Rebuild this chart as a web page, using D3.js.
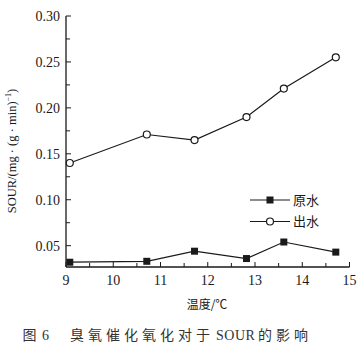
<!DOCTYPE html>
<html><head><meta charset="utf-8">
<script src="https://cdn.jsdelivr.net/npm/d3@7"></script>
<style>
html,body{margin:0;padding:0;background:#fff;}
svg{display:block;}
.serif{font-family:"Liberation Serif","Times New Roman",Times,serif;}
.cjk{font-family:"Noto Sans CJK SC","Noto Sans CJK JP",sans-serif;}
</style></head>
<body>
<svg id="c" width="364" height="353"></svg>
<script>
const temps = [9.08, 10.71, 11.72, 12.82, 13.61, 14.71];
const rawWater = [0.032, 0.033, 0.044, 0.036, 0.054, 0.043];
const outWater = [0.140, 0.171, 0.165, 0.190, 0.221, 0.255];
const seriesNames = ["原水", "出水"];
const xTicks = [9, 10, 11, 12, 13, 14, 15];
const yTicks = [0.05, 0.10, 0.15, 0.20, 0.25, 0.30];

const svg = d3.select("#c");
const col = "#1a1a1a";

const x = d3.scaleLinear().domain([9, 15]).range([66, 349.5]);
const y = d3.scaleLinear().domain([0.0268, 0.30]).range([267, 16]);

svg.append("line").attr("x1", x(9)).attr("x2", x(9)).attr("y1", y(0.30)).attr("y2", y(0.0268))
  .attr("stroke", col).attr("stroke-width", 1.3);
svg.append("line").attr("x1", x(9)).attr("x2", x(15)).attr("y1", y(0.0268)).attr("y2", y(0.0268))
  .attr("stroke", col).attr("stroke-width", 1.3);

const yMinor = d3.range(0.075, 0.30, 0.05);
yTicks.forEach(v => {
  svg.append("line").attr("x1", x(9)).attr("x2", x(9) + 5).attr("y1", y(v)).attr("y2", y(v)).attr("stroke", col).attr("stroke-width", 1);
  svg.append("text").attr("class", "serif").attr("x", 60).attr("y", y(v)).attr("dy", "0.35em").attr("text-anchor", "end")
    .attr("font-size", 14).attr("fill", col).text(d3.format(".2f")(v));
});
yMinor.forEach(v => {
  svg.append("line").attr("x1", x(9)).attr("x2", x(9) + 4).attr("y1", y(v)).attr("y2", y(v)).attr("stroke", col).attr("stroke-width", 1);
});
xTicks.forEach(v => {
  svg.append("line").attr("x1", x(v)).attr("x2", x(v)).attr("y1", y(0.0268)).attr("y2", y(0.0268) - 5).attr("stroke", col).attr("stroke-width", 1);
  svg.append("text").attr("class", "serif").attr("x", x(v)).attr("y", 285).attr("text-anchor", "middle")
    .attr("font-size", 14).attr("fill", col).text(v);
});
d3.range(9.5, 15, 1).forEach(v => {
  svg.append("line").attr("x1", x(v)).attr("x2", x(v)).attr("y1", y(0.0268)).attr("y2", y(0.0268) - 4).attr("stroke", col).attr("stroke-width", 1);
});

const line = d3.line().x((d, i) => x(temps[i])).y(d => y(d));
[rawWater, outWater].forEach(s => {
  svg.append("path").attr("d", line(s)).attr("fill", "none").attr("stroke", col).attr("stroke-width", 1.2);
});
svg.selectAll(".sq").data(rawWater).enter().append("rect")
  .attr("x", (d, i) => x(temps[i]) - 3.5).attr("y", d => y(d) - 3.5).attr("width", 7).attr("height", 7).attr("fill", col);
svg.selectAll(".ci").data(outWater).enter().append("circle")
  .attr("cx", (d, i) => x(temps[i])).attr("cy", d => y(d)).attr("r", 3.5)
  .attr("fill", "#fff").attr("stroke", col).attr("stroke-width", 1.2);

const lg = [{y: 200, name: seriesNames[0], t: "sq"}, {y: 221.5, name: seriesNames[1], t: "ci"}];
lg.forEach(l => {
  svg.append("line").attr("x1", 250).attr("x2", 290).attr("y1", l.y).attr("y2", l.y).attr("stroke", col).attr("stroke-width", 1.2);
  if (l.t === "sq") svg.append("rect").attr("x", 266.5).attr("y", l.y - 3.5).attr("width", 7).attr("height", 7).attr("fill", col);
  else svg.append("circle").attr("cx", 270).attr("cy", l.y).attr("r", 3.5).attr("fill", "#fff").attr("stroke", col).attr("stroke-width", 1.2);
  svg.append("text").attr("class", "cjk").attr("x", 293).attr("y", l.y).attr("dy", "0.36em").attr("font-size", 13).attr("fill", col).text(l.name);
});

const yl = svg.append("text").attr("class", "serif").attr("transform", "translate(16,151) rotate(-90)").attr("text-anchor", "middle")
  .attr("font-size", 12.5).attr("fill", col);
yl.append("tspan").text("SOUR/(mg · (g · min)");
yl.append("tspan").attr("dy", -5).attr("font-size", 8).text("−1");
yl.append("tspan").attr("dy", 5).text(")");

svg.append("text").attr("class", "cjk").attr("x", 207).attr("y", 309).attr("text-anchor", "middle")
  .attr("font-size", 12).attr("fill", col).text("温度/℃");

const cap = [
  {t: "图", x: 22.5, f: "cjk", ls: 0},
  {t: "6", x: 42, f: "serif", ls: 0},
  {t: "臭氧催化氧化对于", x: 70, f: "cjk", ls: 4},
  {t: "SOUR", x: 216, f: "serif", ls: 0.5},
  {t: "的影响", x: 258, f: "cjk", ls: 4}
];
cap.forEach(c => {
  svg.append("text").attr("class", c.f).attr("x", c.x).attr("y", 340).attr("font-size", 14)
    .attr("letter-spacing", c.ls).attr("fill", "#333").text(c.t);
});
</script>
</body></html>
